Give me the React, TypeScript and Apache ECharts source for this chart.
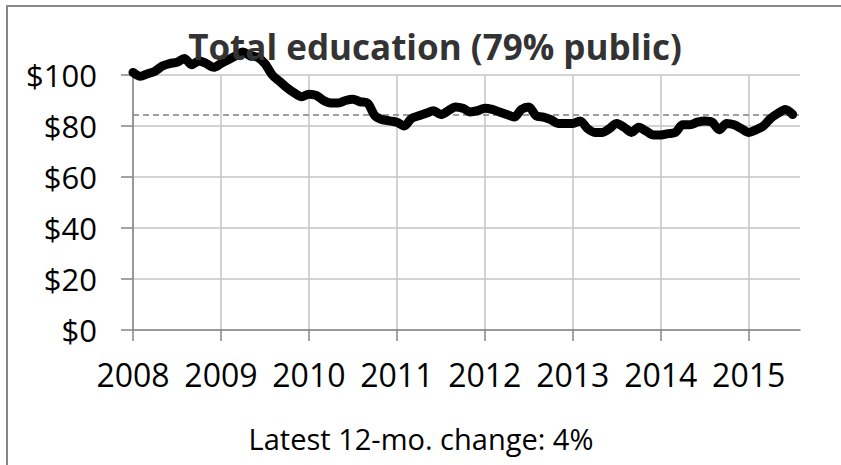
import React, { useEffect, useRef } from "react";
import * as echarts from "echarts";

// Monthly index values, Jan 2008 – Jul 2015
const startYear = 2008;
const monthCount = 92; // axis runs Jan 2008 – Aug 2015
const educationSpending = [
  101, 99.5, 100.5, 101.5, 103.5, 104.5, 105, 106.5, 104, 105.5, 104.5, 103,
  104.5, 106, 107.5, 109, 107.5, 107, 104.5, 100, 97.5, 95, 93, 91.5,
  92.5, 92, 90, 89, 89, 90, 90.5, 89.5, 89, 84, 82.5, 82,
  81.5, 80, 83, 84, 85, 86, 84.5, 86, 87.5, 87, 85.5, 86,
  87, 86.5, 85.5, 84.5, 83.5, 86.5, 87.5, 84, 83.5, 82.5, 81, 81,
  81, 82, 79, 77.5, 77.5, 79, 81, 79.5, 77.5, 79.5, 78, 76.5,
  76.5, 77, 77.5, 80.5, 80.5, 81.5, 82, 81.5, 78.5, 81, 80.5, 79,
  77.5, 78.5, 80, 83, 85, 86.5, 84.5,
];
const averageLevel = 84.4;
const yTicks = [0, 20, 40, 60, 80, 100];
const titleText = "Total education (79% public)";
const footerText = "Latest 12-mo. change: 4%";

const months: string[] = [];
for (let i = 0; i < monthCount; i++) {
  const y = startYear + Math.floor(i / 12);
  const m = (i % 12) + 1;
  months.push(`${y}-${m < 10 ? "0" + m : m}`);
}

const FONT = "'Open Sans', sans-serif";

export default function App() {
  const ref = useRef<HTMLDivElement>(null);

  useEffect(() => {
    if (!ref.current) return;
    document.body.style.margin = "0";
    document.body.style.overflow = "hidden";
    const chart = echarts.init(ref.current, null, { renderer: "svg" });
    const yearTick = (i: number) => i % 12 === 0;
    chart.setOption({
      animation: false,
      backgroundColor: "#ffffff",
      grid: { left: 133, right: 41, top: 75, bottom: 135, containLabel: false },
      xAxis: {
        type: "category",
        data: months,
        boundaryGap: false,
        axisLine: { show: true, lineStyle: { color: "#868686", width: 1.5 } },
        axisTick: {
          show: true,
          interval: yearTick,
          length: 11,
          lineStyle: { color: "#868686", width: 1.5 },
        },
        splitLine: {
          show: true,
          interval: yearTick,
          lineStyle: { color: "#c4c4c4", width: 1.5 },
        },
        axisLabel: {
          interval: yearTick,
          formatter: (v: string) => v.slice(0, 4),
          fontFamily: FONT,
          fontSize: 32,
          color: "#000",
          margin: 28,
        },
      },
      yAxis: {
        type: "value",
        min: yTicks[0],
        max: yTicks[yTicks.length - 1],
        interval: yTicks[1] - yTicks[0],
        axisLine: { show: true, lineStyle: { color: "#868686", width: 1.5 } },
        axisTick: { show: true, length: 12, lineStyle: { color: "#868686", width: 1.5 } },
        splitLine: { show: true, lineStyle: { color: "#c4c4c4", width: 1.5 } },
        axisLabel: {
          formatter: (v: number) => "$" + v,
          fontFamily: FONT,
          fontSize: 31,
          color: "#000",
          margin: 36,
        },
      },
      series: [
        {
          type: "line",
          data: educationSpending,
          showSymbol: false,
          symbol: "none",
          smooth: 0.3,
          clip: false,
          lineStyle: { color: "#000", width: 9, cap: "round", join: "round" },
          z: 3,
          markLine: {
            silent: true,
            symbol: "none",
            label: { show: false },
            lineStyle: { color: "#808080", type: [6, 4], width: 1.5 },
            data: [{ yAxis: averageLevel }],
            z: 2,
          },
        },
      ],
      graphic: [
        {
          type: "text",
          z: 100,
          x: 435,
          y: 46,
          style: {
            text: titleText,
            fontFamily: FONT,
            fontSize: 35,
            fontWeight: "bold",
            fill: "#333333",
            align: "center",
            verticalAlign: "middle",
          },
        },
        {
          type: "text",
          z: 100,
          x: 421,
          y: 438,
          style: {
            text: footerText,
            fontFamily: FONT,
            fontSize: 29,
            fill: "#000",
            align: "center",
            verticalAlign: "middle",
          },
        },
      ],
    });
    return () => chart.dispose();
  }, []);

  return (
    <div style={{ position: "relative", width: 841, height: 465, overflow: "hidden" }}>
      <div ref={ref} style={{ width: 841, height: 465 }} />
      {/* chart frame: only its left and top edges fall inside the view */}
      <div
        style={{
          position: "absolute",
          left: 6,
          top: 5,
          width: 1000,
          height: 1000,
          borderLeft: "2px solid #878787",
          borderTop: "2px solid #878787",
          pointerEvents: "none",
          zIndex: 1,
        }}
      />
    </div>
  );
}
